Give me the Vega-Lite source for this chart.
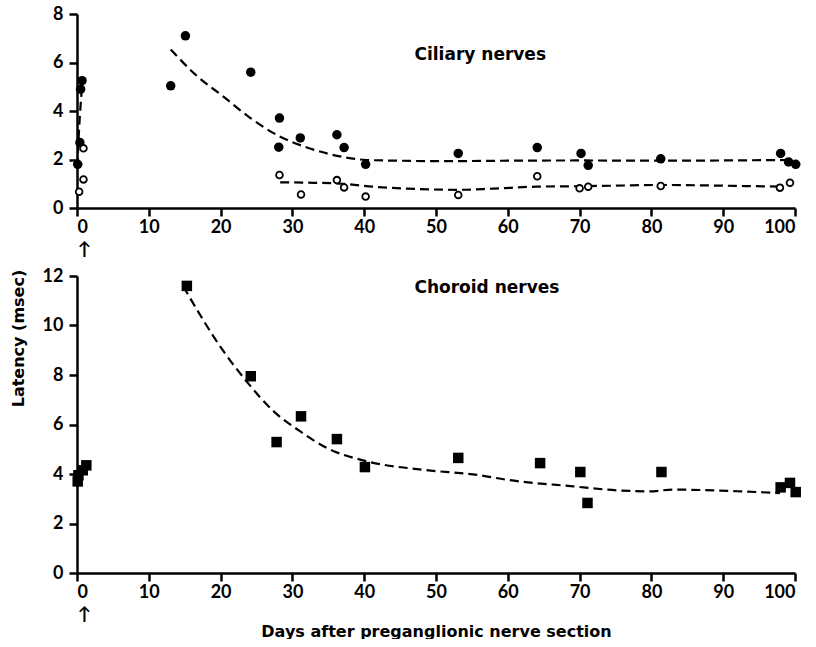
{
  "$schema": "https://vega.github.io/schema/vega-lite/v6.json",
  "background": "white",
  "padding": {"left": 10, "top": 5, "right": 4, "bottom": 0},
  "spacing": 9,
  "config": {
    "view": {"stroke": null},
    "font": "Lato",
    "axis": {
      "grid": false,
      "domainColor": "black",
      "domainWidth": 2.5,
      "tickColor": "black",
      "tickWidth": 2.5,
      "tickSize": 8,
      "labelFont": "Lato",
      "labelFontSize": 18,
      "labelFontWeight": "bold",
      "labelColor": "black",
      "titleFont": "DejaVu Sans",
      "titleFontSize": 17,
      "titleFontWeight": "bold",
      "titleColor": "black"
    }
  },
  "datasets": {
    "ciliary": [
      {"day": 0.1, "latency": 1.8, "type": "filled"},
      {"day": 0.4, "latency": 2.7, "type": "filled"},
      {"day": 0.5, "latency": 4.9, "type": "filled"},
      {"day": 0.7, "latency": 5.25, "type": "filled"},
      {"day": 13.05, "latency": 5.04, "type": "filled"},
      {"day": 15.1, "latency": 7.1, "type": "filled"},
      {"day": 24.2, "latency": 5.6, "type": "filled"},
      {"day": 28.2, "latency": 3.71, "type": "filled"},
      {"day": 28.1, "latency": 2.51, "type": "filled"},
      {"day": 31.1, "latency": 2.89, "type": "filled"},
      {"day": 36.2, "latency": 3.02, "type": "filled"},
      {"day": 37.2, "latency": 2.49, "type": "filled"},
      {"day": 40.2, "latency": 1.8, "type": "filled"},
      {"day": 53.1, "latency": 2.25, "type": "filled"},
      {"day": 64.1, "latency": 2.49, "type": "filled"},
      {"day": 70.2, "latency": 2.25, "type": "filled"},
      {"day": 71.2, "latency": 1.76, "type": "filled"},
      {"day": 81.3, "latency": 2.03, "type": "filled"},
      {"day": 98.0, "latency": 2.25, "type": "filled"},
      {"day": 99.1, "latency": 1.9, "type": "filled"},
      {"day": 100.1, "latency": 1.8, "type": "filled"},
      {"day": 0.9, "latency": 2.46, "type": "open"},
      {"day": 0.9, "latency": 1.18, "type": "open"},
      {"day": 0.3, "latency": 0.67, "type": "open"},
      {"day": 28.2, "latency": 1.36, "type": "open"},
      {"day": 31.2, "latency": 0.56, "type": "open"},
      {"day": 36.2, "latency": 1.15, "type": "open"},
      {"day": 37.2, "latency": 0.85, "type": "open"},
      {"day": 40.2, "latency": 0.47, "type": "open"},
      {"day": 53.1, "latency": 0.54, "type": "open"},
      {"day": 64.1, "latency": 1.31, "type": "open"},
      {"day": 70.0, "latency": 0.81, "type": "open"},
      {"day": 71.2, "latency": 0.88, "type": "open"},
      {"day": 81.3, "latency": 0.91, "type": "open"},
      {"day": 97.9, "latency": 0.84, "type": "open"},
      {"day": 99.3, "latency": 1.04, "type": "open"}
    ],
    "ciliaryCurves": [
      {"day": 0.05, "latency": 1.7, "curve": "early"},
      {"day": 0.3, "latency": 3.3, "curve": "early"},
      {"day": 0.7, "latency": 5.0, "curve": "early"},
      {"day": 13.05, "latency": 6.54, "curve": "filled"},
      {"day": 16.5, "latency": 5.5, "curve": "filled"},
      {"day": 20.4, "latency": 4.59, "curve": "filled"},
      {"day": 24.2, "latency": 3.7, "curve": "filled"},
      {"day": 28.3, "latency": 2.94, "curve": "filled"},
      {"day": 31.5, "latency": 2.55, "curve": "filled"},
      {"day": 34.8, "latency": 2.25, "curve": "filled"},
      {"day": 37.5, "latency": 2.08, "curve": "filled"},
      {"day": 40.3, "latency": 1.98, "curve": "filled"},
      {"day": 45, "latency": 1.95, "curve": "filled"},
      {"day": 50, "latency": 1.93, "curve": "filled"},
      {"day": 60, "latency": 1.95, "curve": "filled"},
      {"day": 70, "latency": 1.96, "curve": "filled"},
      {"day": 80, "latency": 1.95, "curve": "filled"},
      {"day": 90, "latency": 1.96, "curve": "filled"},
      {"day": 98.8, "latency": 1.98, "curve": "filled"},
      {"day": 28.3, "latency": 1.06, "curve": "open"},
      {"day": 33, "latency": 1.04, "curve": "open"},
      {"day": 37, "latency": 1.0, "curve": "open"},
      {"day": 41.2, "latency": 0.88, "curve": "open"},
      {"day": 46, "latency": 0.8, "curve": "open"},
      {"day": 52.9, "latency": 0.75, "curve": "open"},
      {"day": 58, "latency": 0.8, "curve": "open"},
      {"day": 64, "latency": 0.88, "curve": "open"},
      {"day": 70, "latency": 0.9, "curve": "open"},
      {"day": 75, "latency": 0.92, "curve": "open"},
      {"day": 81.2, "latency": 0.95, "curve": "open"},
      {"day": 90, "latency": 0.92, "curve": "open"},
      {"day": 98, "latency": 0.88, "curve": "open"}
    ],
    "choroid": [
      {"day": 0.1, "latency": 3.7},
      {"day": 0.2, "latency": 3.95},
      {"day": 0.8, "latency": 4.15},
      {"day": 1.3, "latency": 4.35},
      {"day": 15.3, "latency": 11.6},
      {"day": 24.2, "latency": 7.95},
      {"day": 27.8, "latency": 5.29},
      {"day": 31.2, "latency": 6.33},
      {"day": 36.2, "latency": 5.41},
      {"day": 40.1, "latency": 4.28},
      {"day": 53.1, "latency": 4.65},
      {"day": 64.5, "latency": 4.44},
      {"day": 70.1, "latency": 4.08},
      {"day": 71.1, "latency": 2.83},
      {"day": 81.4, "latency": 4.08},
      {"day": 98.0, "latency": 3.46},
      {"day": 99.3, "latency": 3.64},
      {"day": 100.1, "latency": 3.27}
    ],
    "choroidCurve": [
      {"day": 14.8, "latency": 11.58},
      {"day": 20.4, "latency": 8.96},
      {"day": 23.6, "latency": 7.75},
      {"day": 27.4, "latency": 6.53},
      {"day": 31.1, "latency": 5.72},
      {"day": 34.8, "latency": 5.05},
      {"day": 40.4, "latency": 4.51},
      {"day": 48.2, "latency": 4.17},
      {"day": 56.1, "latency": 3.95},
      {"day": 59.8, "latency": 3.77},
      {"day": 69.1, "latency": 3.5},
      {"day": 75.2, "latency": 3.34},
      {"day": 79.8, "latency": 3.3},
      {"day": 83.0, "latency": 3.37},
      {"day": 92.3, "latency": 3.3},
      {"day": 97.9, "latency": 3.23}
    ],
    "labels": [
      {"panel": "ciliary", "label": "Ciliary nerves"},
      {"panel": "choroid", "label": "Choroid nerves"}
    ]
  },
  "vconcat": [
    {
      "width": 718,
      "height": 194,
      "layer": [
        {
          "data": {"name": "ciliaryCurves"},
          "mark": {"type": "line", "color": "black", "strokeWidth": 2.2, "strokeDash": [9, 5], "interpolate": "monotone"},
          "encoding": {
            "x": {"field": "day", "type": "quantitative", "scale": {"domain": [0, 100], "nice": false},
              "axis": {"title": null, "values": [0, 10, 20, 30, 40, 50, 60, 70, 80, 90, 100], "labelPadding": 2, "labelLineHeight": 22,
                "labelExpr": "datum.value === 0 ? ['0', '↑'] : datum.label"}},
            "y": {"field": "latency", "type": "quantitative", "scale": {"domain": [0, 8], "nice": false},
              "axis": {"title": null, "values": [0, 2, 4, 6, 8], "labelPadding": 6}},
            "detail": {"field": "curve"}
          }
        },
        {
          "data": {"name": "ciliary"},
          "transform": [{"filter": "datum.type === 'filled'"}],
          "mark": {"type": "point", "shape": "circle", "filled": true, "color": "black", "size": 90, "opacity": 1},
          "encoding": {
            "x": {"field": "day", "type": "quantitative"},
            "y": {"field": "latency", "type": "quantitative"}
          }
        },
        {
          "data": {"name": "ciliary"},
          "transform": [{"filter": "datum.type === 'open'"}],
          "mark": {"type": "point", "shape": "circle", "filled": true, "fill": "white", "stroke": "black", "strokeWidth": 1.8, "size": 45, "opacity": 1},
          "encoding": {
            "x": {"field": "day", "type": "quantitative"},
            "y": {"field": "latency", "type": "quantitative"}
          }
        },
        {
          "data": {"name": "labels"},
          "transform": [{"filter": "datum.panel === 'ciliary'"}],
          "mark": {"type": "text", "align": "left", "baseline": "middle", "fontSize": 17, "fontWeight": "bold", "font": "DejaVu Sans", "color": "black"},
          "encoding": {
            "x": {"datum": 47},
            "y": {"datum": 6.3},
            "text": {"field": "label"}
          }
        }
      ]
    },
    {
      "width": 718,
      "height": 297,
      "layer": [
        {
          "data": {"name": "choroidCurve"},
          "mark": {"type": "line", "color": "black", "strokeWidth": 2.2, "strokeDash": [9, 5], "interpolate": "monotone"},
          "encoding": {
            "x": {"field": "day", "type": "quantitative", "scale": {"domain": [0, 100], "nice": false},
              "axis": {"title": "Days after preganglionic nerve section", "titleFontSize": 16, "titlePadding": 0, "values": [0, 10, 20, 30, 40, 50, 60, 70, 80, 90, 100], "labelPadding": 2, "labelLineHeight": 22,
                "labelExpr": "datum.value === 0 ? ['0', '↑'] : datum.label"}},
            "y": {"field": "latency", "type": "quantitative", "scale": {"domain": [0, 12], "nice": false},
              "axis": {"title": "Latency (msec)", "titleFontSize": 16, "titlePadding": 16, "titleY": 62, "titleAlign": "center", "values": [0, 2, 4, 6, 8, 10, 12], "labelPadding": 6}}
          }
        },
        {
          "data": {"name": "choroid"},
          "mark": {"type": "point", "shape": "square", "filled": true, "color": "black", "size": 110, "opacity": 1},
          "encoding": {
            "x": {"field": "day", "type": "quantitative"},
            "y": {"field": "latency", "type": "quantitative"}
          }
        },
        {
          "data": {"name": "labels"},
          "transform": [{"filter": "datum.panel === 'choroid'"}],
          "mark": {"type": "text", "align": "left", "baseline": "middle", "fontSize": 17, "fontWeight": "bold", "font": "DejaVu Sans", "color": "black"},
          "encoding": {
            "x": {"datum": 47},
            "y": {"datum": 11.5},
            "text": {"field": "label"}
          }
        }
      ]
    }
  ]
}
